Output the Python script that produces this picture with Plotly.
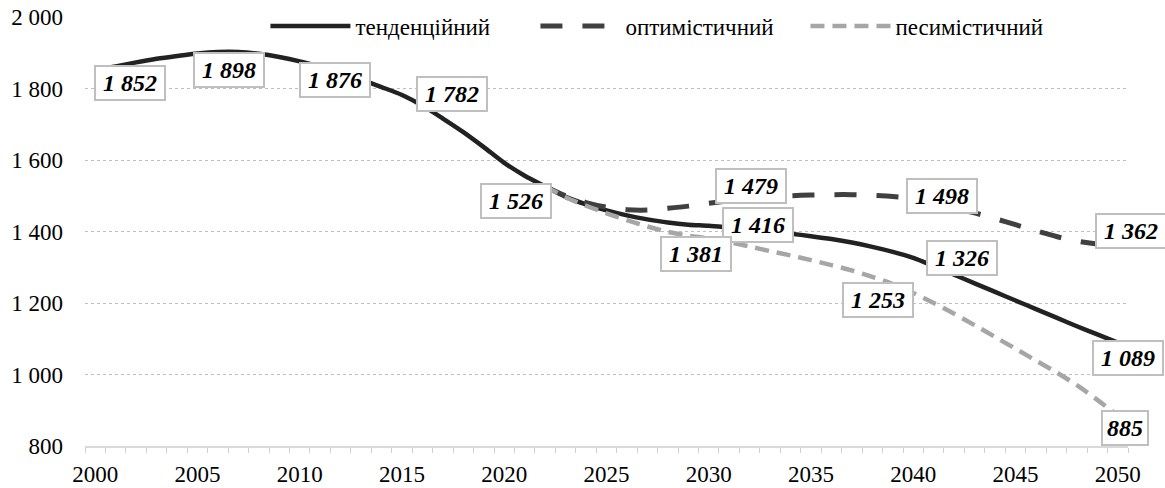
import plotly.graph_objects as go

# роки та три сценарії
years = list(range(2000, 2051))

tendency = [1852, 1862, 1873, 1883, 1891, 1898, 1902, 1902, 1897, 1888,
            1876, 1861, 1844, 1825, 1804, 1782, 1752, 1716, 1678, 1636,
            1592, 1556, 1526, 1497, 1476, 1459, 1445, 1434, 1425, 1419,
            1416, 1411, 1406, 1400, 1394, 1387, 1379, 1369, 1357, 1343,
            1326, 1303, 1279, 1255, 1231, 1207, 1183, 1159, 1135, 1112,
            1089]

optimistic = [None] * 22 + [1526, 1500, 1481, 1468, 1461, 1460, 1465, 1471,
                            1479, 1486, 1492, 1497, 1500, 1502, 1503, 1503,
                            1501, 1498, 1492, 1480, 1466, 1452, 1436, 1419,
                            1402, 1386, 1373, 1365, 1362]

pessimistic = [None] * 22 + [1526, 1496, 1472, 1451, 1432, 1414, 1399, 1388,
                             1381, 1370, 1358, 1345, 1333, 1320, 1306, 1291,
                             1273, 1253, 1228, 1200, 1170, 1138, 1105, 1072,
                             1039, 1006, 970, 929, 885]

names = ["тенденційний", "оптимістичний", "песимістичний"]

# роки з підписами значень
label_years_t = [2000, 2005, 2010, 2015, 2022, 2030, 2040, 2050]
label_years_o = [2030, 2039, 2050]
label_years_p = [2030, 2039, 2050]

# зміщення підписів у пікселях
shift_t = [(35, -13), (32, -17), (35, -19), (50, 1), (-29, -15), (49, 1), (49, 0), (10, -15)]
shift_o = [(42, 17), (49, 0), (13, 14)]
shift_p = [(-13, -16), (-15, -16), (7, -12)]

FONT = "Liberation Serif"

fig = go.Figure()

fig.add_trace(go.Scatter(x=years, y=tendency, name=names[0], mode="lines",
                         line=dict(color="#222222", width=4.5, shape="spline", smoothing=0.8)))
fig.add_trace(go.Scatter(x=years, y=optimistic, name=names[1], mode="lines",
                         line=dict(color="#404040", width=5, dash="22px,20px",
                                   shape="spline", smoothing=0.8)))
fig.add_trace(go.Scatter(x=years, y=pessimistic, name=names[2], mode="lines",
                         line=dict(color="#a6a6a6", width=4.5, dash="14px,8px",
                                   shape="spline", smoothing=0.8)))


def add_labels(series, label_years, shifts):
    for yr, (dx, dy) in zip(label_years, shifts):
        v = series[years.index(yr)]
        txt = f"{v:,}".replace(",", " ")
        fig.add_annotation(
            x=yr, y=v, xref="x", yref="y",
            text="<b><i>" + txt + "</i></b>",
            showarrow=False, xshift=dx, yshift=dy,
            width=12 * len(txt) + 2, height=26,
            font=dict(family=FONT, size=24, color="black"),
            bgcolor="white", bordercolor="#bfbfbf", borderwidth=2, borderpad=3,
        )


add_labels(tendency, label_years_t, shift_t)
add_labels(optimistic, label_years_o, shift_o)
add_labels(pessimistic, label_years_p, shift_p)

fig.update_layout(
    width=1165, height=488,
    margin=dict(l=85, r=37, t=17, b=42, autoexpand=False),
    paper_bgcolor="white", plot_bgcolor="white",
    font=dict(family=FONT, size=23, color="black"),
    separators=". ",
    legend=dict(orientation="h", x=0.173, y=0.979, xanchor="left", yanchor="middle",
                font=dict(family=FONT, size=23, color="black"),
                bgcolor="rgba(0,0,0,0)", entrywidth=175, itemwidth=80),
)
fig.update_xaxes(
    range=[1999.5, 2050.5], tickvals=list(range(2000, 2051, 5)),
    showgrid=False, zeroline=False,
    showline=True, linecolor="#d9d9d9", linewidth=2,
    ticks="", ticklabelstandoff=6,
    minor=dict(tick0=1999.5, dtick=1, ticks="outside", ticklen=5,
               tickcolor="#d0d0d0", tickwidth=1, showgrid=False),
)
fig.update_yaxes(
    range=[800, 2000], dtick=200, tickformat=",d",
    showgrid=True, gridcolor="#bfbfbf", griddash="dot", gridwidth=1,
    zeroline=False, showline=False, ticks="", ticklabelstandoff=21,
    ticklabeloverflow="allow",
)

# прибрати стандартний відступ сторінки, щоб фігура займала все вікно
fig.write_html("out.html", config={"displayModeBar": False},
               post_script="document.body.style.margin = '0';")
